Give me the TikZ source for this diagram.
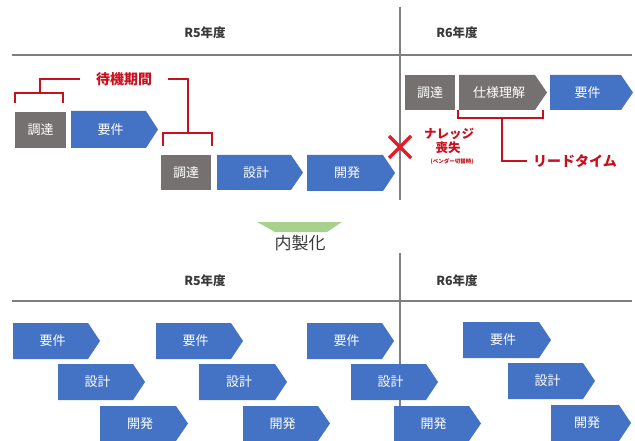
\documentclass[tikz,border=0pt]{standalone}
\usepackage{fontspec}
\setmainfont{Noto Sans CJK JP}
\definecolor{boxblue}{HTML}{4472C4}
\definecolor{boxgray}{HTML}{767171}
\definecolor{lred}{HTML}{C8101E}
\definecolor{xred}{HTML}{E01E2A}
\definecolor{lgray}{HTML}{7F7F7F}
\definecolor{headgray}{HTML}{3A3A3A}
\definecolor{lgreen}{HTML}{A9D18E}
\tikzset{
  blk/.style={fill=boxblue},
  gry/.style={fill=boxgray},
  lbl/.style={text=white, font=\fontsize{13}{13}\selectfont, inner sep=0pt},
  hd/.style={text=headgray, font=\fontsize{12.5}{13}\selectfont\bfseries, inner sep=0pt},
  redtxt/.style={text=lred, font=\fontsize{14}{14}\selectfont\bfseries, inner sep=0pt},
  rl/.style={draw=lred, line width=1.6pt},
  gl/.style={draw=lgray, line width=1.6pt},
}
\newcommand{\chev}[7]{%
  \fill[#1] (#3,#4) -- ({#5-12},#4) -- (#5,{(#4+#6)/2}) -- ({#5-12},#6) -- (#3,#6) -- cycle;
  \node[lbl] (#2) at ({(#3+#5)/2-4},{(#4+#6)/2}) {#7};}
\newcommand{\rbox}[6]{%
  \fill[#1] (#3,#4) rectangle (#5,#6);
  \node[lbl] (#2) at ({(#3+#5)/2},{(#4+#6)/2}) {調達};}
\begin{document}
\begin{tikzpicture}[x=1pt,y=-1pt]
\useasboundingbox (0,0) rectangle (635,441);
% ---------- top section ----------
\coordinate (tvtop) at (400,7);
\coordinate (tvbot) at (400,200);
\coordinate (thl) at (12,55);
\coordinate (thr) at (632,55);
\draw[gl] (tvtop) -- (tvbot);
\draw[gl] (thl) -- (thr);
\node[hd] (r5a) at (205,33) {R5年度};
\node[hd] (r6a) at (457,33) {R6年度};
% row 1
\rbox{gry}{c1}{15}{112}{66}{148}
\chev{blk}{y1}{71}{111}{158}{148}{要件}
% row 2
\rbox{gry}{c2}{161}{155}{211}{190}
\chev{blk}{s1}{217}{155}{303}{190}{設計}
\chev{blk}{k1}{307}{155}{395}{191}{開発}
% R6 row
\rbox{gry}{c3}{405}{75}{455}{110}
\chev{gry}{sy}{459}{75}{547}{110}{仕様理解}
\chev{blk}{y2}{550}{75}{633}{110}{要件}
% waiting period brackets
\node[redtxt] (taiki) at (124,79) {待機期間};
\coordinate (b1a) at (15,103);
\coordinate (b1b) at (15,93);
\coordinate (b1c) at (63,93);
\coordinate (b1d) at (63,103);
\coordinate (b1s) at (40,93);
\coordinate (b1t) at (40,79);
\coordinate (b1e) at (80,79);
\draw[rl] (b1a) -- (b1b) -- (b1c) -- (b1d);
\draw[rl] (b1s) -- (b1t) -- (b1e);
\coordinate (b2e) at (168,79);
\coordinate (b2t) at (188,79);
\coordinate (b2s) at (188,133);
\coordinate (b2a) at (163,146);
\coordinate (b2b) at (163,133);
\coordinate (b2c) at (212,133);
\coordinate (b2d) at (212,146);
\draw[rl] (b2e) -- (b2t) -- (b2s);
\draw[rl] (b2a) -- (b2b) -- (b2c) -- (b2d);
% lead time bracket
\coordinate (l1a) at (458,110);
\coordinate (l1b) at (458,118);
\coordinate (l1c) at (543,118);
\coordinate (l1d) at (543,110);
\coordinate (l1s) at (502,118);
\coordinate (l1t) at (502,161);
\coordinate (l1e) at (527,161);
\draw[rl] (l1a) -- (l1b) -- (l1c) -- (l1d);
\draw[rl] (l1s) -- (l1t) -- (l1e);
\node[redtxt, anchor=west] (lead) at (533,161) {リードタイム};
% knowledge loss
\coordinate (xa) at (389,136);
\coordinate (xb) at (411,158);
\coordinate (xc) at (389,158);
\coordinate (xd) at (411,136);
\draw[draw=xred, line width=3.5pt] (xa) -- (xb);
\draw[draw=xred, line width=3.5pt] (xc) -- (xd);
\node[text=lred, font=\fontsize{12.5}{13}\selectfont\bfseries, inner sep=0pt] (kn1) at (449,134) {ナレッジ};
\node[text=lred, font=\fontsize{12.5}{13}\selectfont\bfseries, inner sep=0pt] (kn2) at (448,148) {喪失};
\node[text=lred, font=\fontsize{5.5}{6}\selectfont\bfseries, inner sep=0pt] (kn3) at (452,162) {(ベンダー切替時)};
% ---------- middle ----------
\fill[lgreen] (257,222) -- (342,222) -- (327,232) -- (275,232) -- cycle;
\node[text=headgray, font=\fontsize{17}{17}\selectfont, inner sep=0pt] (nai) at (300,243) {内製化};
% ---------- bottom section ----------
\coordinate (bvtop) at (400,253);
\coordinate (bvbot) at (400,441);
\coordinate (bhl) at (12,301);
\coordinate (bhr) at (632,301);
\draw[gl] (bvtop) -- (bvbot);
\draw[gl] (bhl) -- (bhr);
\node[hd] (r5b) at (205,281) {R5年度};
\node[hd] (r6b) at (457,281) {R6年度};
\chev{blk}{ya}{13}{323}{100}{359}{要件}
\chev{blk}{yb}{156}{323}{243}{359}{要件}
\chev{blk}{yc}{307}{323}{394}{359}{要件}
\chev{blk}{yd}{463}{322}{551}{358}{要件}
\chev{blk}{sa}{58}{364}{145}{400}{設計}
\chev{blk}{sb}{199}{364}{287}{400}{設計}
\chev{blk}{sc}{351}{364}{438}{400}{設計}
\chev{blk}{sd}{508}{363}{595}{399}{設計}
\chev{blk}{ka}{100}{406}{188}{441}{開発}
\chev{blk}{kb}{243}{406}{330}{441}{開発}
\chev{blk}{kc}{394}{406}{481}{441}{開発}
\chev{blk}{kd}{551}{405}{631}{441}{開発}
\end{tikzpicture}
\end{document}
